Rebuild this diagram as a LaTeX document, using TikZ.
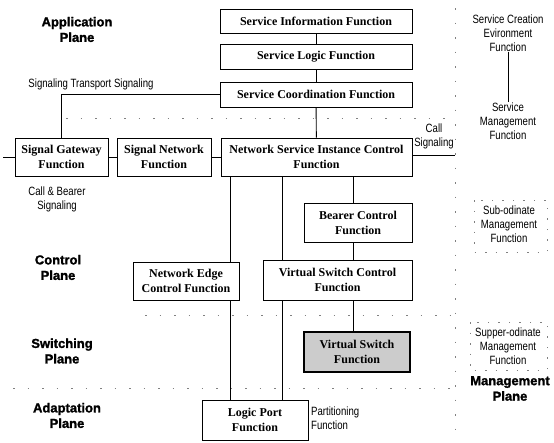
\documentclass[tikz,border=0pt]{standalone}
\usepackage{fontspec}
\setmainfont{Liberation Serif}
\newfontfamily\lblfont{Liberation Sans}[FakeStretch=0.8]
\newfontfamily\planefont{Liberation Sans}[BoldFeatures={FakeBold=1.5}]
\begin{document}
\begin{tikzpicture}[x=1pt,y=-1pt,
  fbox/.style={draw,line width=0.9pt,inner sep=0pt,align=center,
    font=\fontsize{12}{15}\selectfont\bfseries},
  lbl/.style={inner sep=0pt,align=center,font=\lblfont\fontsize{12}{14}\selectfont},
  plane/.style={inner sep=0pt,align=center,font=\planefont\bfseries\fontsize{13}{15.5}\selectfont},
  sep/.style={draw=gray,line width=0.8pt,dash pattern=on 1.5pt off 13pt},
  mgbox/.style={draw=gray,line width=0.8pt,dash pattern=on 1.5pt off 9pt},
  conn/.style={line width=0.9pt}]
\useasboundingbox (0,0) rectangle (554,442);
% plane separators
\draw[sep] (66,118) -- (452,118);
\draw[sep] (145,315) -- (452,315);
\draw[sep] (13,388) -- (452,388);
\draw[sep] (455,8) -- (455,440);
% boxes
\node[fbox,minimum width=192pt,minimum height=24pt] (sinfo) at (316,21) {Service Information Function};
\node[fbox,minimum width=192pt,minimum height=25pt] (slogic) at (316,56.5) {Service Logic Function};
\node[fbox,minimum width=192pt,minimum height=25pt] (scoord) at (316,94.5) {Service Coordination Function};
\node[fbox,minimum width=93pt,minimum height=38pt] (sg) at (61.5,157) {Signal Gateway\\Function};
\node[fbox,minimum width=94pt,minimum height=38pt] (sn) at (164,157) {Signal Network\\Function};
\node[fbox,minimum width=191pt,minimum height=38pt] (nsic) at (316.5,157) {Network Service Instance Control\\Function};
\node[fbox,minimum width=108pt,minimum height=39pt] (bearer) at (358,222.5) {Bearer Control\\Function};
\node[fbox,minimum width=106pt,minimum height=38pt] (nec) at (186,281) {Network Edge\\Control Function};
\node[fbox,minimum width=149pt,minimum height=40pt] (vsc) at (337.5,280) {Virtual Switch Control\\Function};
\node[fbox,fill=gray!40,line width=1.2pt,minimum width=106pt,minimum height=40pt] (vs) at (357,352) {Virtual Switch\\Function};
\node[fbox,minimum width=106pt,minimum height=40pt] (lp) at (255,420) {Logic Port\\Function};
% plane labels
\node[plane] (app) at (77,29.5) {Application\\Plane};
\node[plane] (ctl) at (58,267.5) {Control\\Plane};
\node[plane] (sw) at (62,351) {Switching\\Plane};
\node[plane] (ad) at (67,415.5) {Adaptation\\Plane};
\node[plane] (mg) at (510,388.5) {Management\\Plane};
% small labels
\node[lbl] (sts) at (91,84) {Signaling Transport Signaling};
\node[lbl] (cbs) at (57,199.5) {Call \& Bearer\\Signaling};
\node[lbl] (cs) at (434,136.5) {Call\\Signaling};
\node[lbl] (sce) at (508,33.5) {Service Creation\\Evironment\\Function};
\node[lbl] (smf) at (508,121) {Service\\Management\\Function};
\node[lbl] (sub) at (509,224) {Sub-odinate\\Management\\Function};
\node[lbl] (sup) at (508,346) {Supper-odinate\\Management\\Function};
\node[lbl,anchor=west,align=left] (pf) at (311,418) {Partitioning\\Function};
\draw[mgbox] (474,200) rectangle (547,252);
\draw[mgbox] (470,322) rectangle (547,370);
% connectors
\coordinate (lstub) at (3,157);
\coordinate (cse) at (455,155);
\draw[conn] (sinfo) -- (slogic);
\draw[conn] (slogic) -- (scoord);
\draw[conn] (scoord) -- (nsic);
\draw[conn] (scoord.west) -| (sg.north);
\draw[conn] (lstub) -- (sg.west);
\draw[conn] (sg) -- (sn);
\draw[conn] (sn) -- (nsic);
\draw[conn] (nsic.east |- cse) -- (cse);
\draw[conn] (nsic.south -| 230,0) -- (nec.north -| 230,0);
\draw[conn] (nsic.south -| 282,0) -- (vsc.north -| 282,0);
\draw[conn] (nsic.south -| 353,0) -- (bearer.north -| 353,0);
\draw[conn] (bearer.south -| 353,0) -- (vsc.north -| 353,0);
\draw[conn] (vsc.south -| 353,0) -- (vs.north -| 353,0);
\draw[conn] (vsc.south -| 282,0) -- (lp.north -| 282,0);
\draw[conn] (nec.south -| 230,0) -- (lp.north -| 230,0);
\draw[line width=0.7pt] (sce) -- (smf);
\end{tikzpicture}
\end{document}
